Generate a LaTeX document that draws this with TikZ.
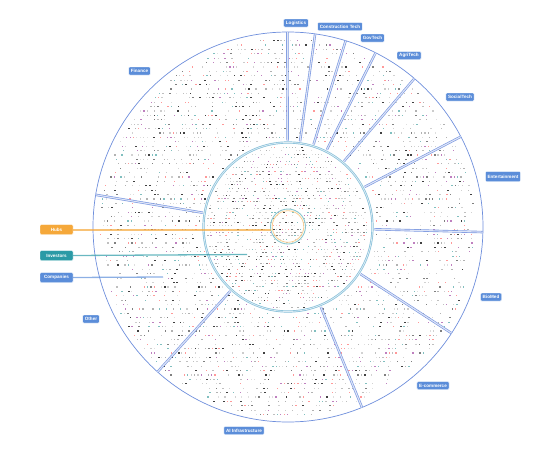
\documentclass[tikz,border=0pt]{standalone}
\usepackage{fontspec}
\setmainfont{Liberation Sans}
\usetikzlibrary{calc}
\definecolor{lblue}{HTML}{5B8DD9}
\definecolor{ringc}{HTML}{6F8FDC}
\definecolor{spk}{HTML}{7A97E0}
\definecolor{midc}{HTML}{86BFD9}
\definecolor{hubc}{HTML}{F5A83A}
\definecolor{invc}{HTML}{2A9AA6}
\colorlet{dc1}{gray!35}
\colorlet{dc2}{gray!50}
\colorlet{dc3}{gray!25}
\colorlet{dc4}{gray!40}
\colorlet{dc5}{gray!60}
\colorlet{dc6}{black!75}
\colorlet{dc7}{black!50}
\colorlet{dc8}{violet!50}
\colorlet{dc9}{red!40}
\colorlet{dc10}{teal!50}
\tikzset{
  lab/.style={fill=lblue, text=white, font=\fontsize{4.6}{5.5}\selectfont\bfseries,
    rounded corners=1pt, inner xsep=2.2pt, inner ysep=0pt, minimum height=8pt,
    draw=white, line width=0.4pt},
  spoke/.style={draw=spk, double=white!75!spk, double distance=1.1pt, line width=0.65pt},
  tie/.style={line width=1.3pt, opacity=0.7}
}
\newcommand{\dotw}[1]{\ifcase#1\or1.2\or1.4\or1\or1.2\or1.4\or1.8\or1.5\or1.3\or1.3\or1.3\fi}
\begin{document}
\begin{tikzpicture}[x=1pt,y=-1pt]
\useasboundingbox (0,0) rectangle (554,450);
\coordinate (C) at (288,227);
% scattered marks in the outer ring
\pgfmathsetseed{7}
\foreach \yy in {40,44.4,...,414}{
  \pgfmathsetmacro\hw{10*sqrt(max(0,361-((\yy-227)/10)^2))}
  \pgfmathsetmacro\xa{288-\hw+2}
  \pgfmathsetmacro\xb{\xa+3.4}
  \pgfmathsetmacro\xc{288+\hw-4}
  \foreach \xx in {\xa,\xb,...,\xc}{
    \pgfmathtruncatemacro\k{(((\xx-288)/10)^2+((\yy-227)/10)^2>77)*(rnd<0.4)*(1+floor(10*rnd))}
    \ifnum\k>0 \fill[dc\k] (\xx,\yy) rectangle ++(\dotw{\k},1.1);\fi
  }
}
% scattered marks in the middle disk
\foreach \yy in {147,150.4,...,307}{
  \pgfmathsetmacro\hw{10*sqrt(max(0,67.24-((\yy-227)/10)^2))}
  \pgfmathsetmacro\xa{288-\hw+1}
  \pgfmathsetmacro\xb{\xa+3}
  \pgfmathsetmacro\xc{288+\hw-3}
  \foreach \xx in {\xa,\xb,...,\xc}{
    \pgfmathtruncatemacro\k{(rnd<0.48)*(1+floor(10*rnd))}
    \ifnum\k>0 \fill[dc\k] (\xx,\yy) rectangle ++(\dotw{\k},1);\fi
  }
}
% rings
\draw[ringc, line width=0.7pt] (C) circle[radius=195];
\draw[midc, double=white!70!midc, double distance=0.8pt, line width=0.7pt] (C) circle[radius=84.5];
\draw[invc!55, line width=0.9pt] (288,226.5) circle[radius=17.5];
\draw[hubc!55, line width=0.8pt] (288,226.5) circle[radius=15.8];
% spokes
\foreach \a in {90.2,82,72.8,63.3,49.6,27.6,-1.5,-33,-67.7,-132,170.5}
  \draw[spoke] ($(C)+(-\a:86.5)$) -- ($(C)+(-\a:195)$);
% sector labels
\node[lab] (logi) at (296,23) {Logistics};
\node[lab] (cons) at (340,26.5) {Construction Tech};
\node[lab] (gov) at (372.5,38) {GovTech};
\node[lab] (agri) at (409,55.5) {AgriTech};
\node[lab] (soc) at (460,97) {SocialTech};
\node[lab, minimum height=10pt] (ent) at (503,176.5) {Entertainment};
\node[lab] (bio) at (491,297) {BioMed};
\node[lab] (ecom) at (433,385.5) {E-commerce};
\node[lab] (ai) at (244,430.5) {AI Infrastructure};
\node[lab] (fin) at (139.5,71) {Finance};
\node[lab] (oth) at (91,319) {Other};
% legend labels with ties
\node[lab, fill=hubc, minimum width=33pt, minimum height=10pt] (hubs) at (56.5,229.5) {Hubs};
\node[lab, fill=invc, minimum width=33pt, minimum height=10pt] (inv) at (56.5,255.5) {Investors};
\node[lab, minimum width=33pt, minimum height=10pt] (comp) at (56.5,277.5) {Companies};
\coordinate (hubsend) at (271,229.5);
\coordinate (invend) at (247,254.5);
\coordinate (compend) at (163,277);
\draw[tie, hubc, line width=2pt] (hubs.east) -- (hubsend);
\draw[tie, invc] (inv.east) -- (invend);
\draw[tie, lblue] (comp.east) -- (compend);
\end{tikzpicture}
\end{document}
